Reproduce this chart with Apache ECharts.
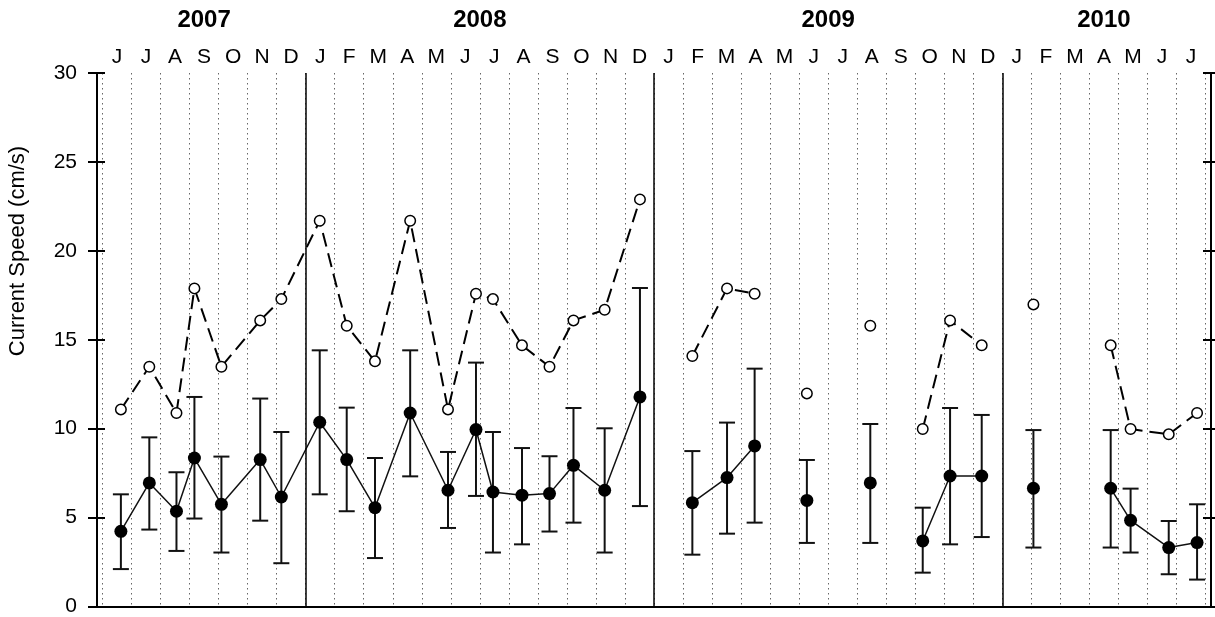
<!DOCTYPE html>
<html><head><meta charset="utf-8">
<script src="https://cdn.jsdelivr.net/npm/echarts@6/dist/echarts.min.js"></script>
<style>html,body{margin:0;padding:0;background:#fff}#c{width:1215px;height:617px}</style>
</head><body><div id="c"></div>
<script>
// ---- data ----
const sampleDates = ['2007-06-20','2007-07-20','2007-08-18','2007-09-06','2007-10-04','2007-11-14','2007-12-06',
  '2008-01-16','2008-02-13','2008-03-13','2008-04-19','2008-05-29','2008-06-27','2008-07-15','2008-08-15',
  '2008-09-13','2008-10-08','2008-11-10','2008-12-17',
  '2009-02-10','2009-03-17','2009-04-15','2009-06-09','2009-08-15','2009-10-09','2009-11-07','2009-12-10',
  '2010-02-03','2010-04-23','2010-05-14','2010-06-23','2010-07-23'];
// consecutive samples with the same group id are joined by lines
const groups = [0,0,0,0,0,0,0, 0,0,0,0,0,0,0,0, 0,0,0,0, 1,1,1,2,3,4,4,4, 5,6,6,6,6];
const maxSpeed = [11.1,13.5,10.9,17.9,13.5,16.1,17.3, 21.7,15.8,13.8,21.7,11.1,17.6,17.3,14.7,
  13.5,16.1,16.7,22.9, 14.1,17.9,17.6,12.0,15.8,10.0,16.1,14.7, 17.0,14.7,10.0,9.7,10.9];
const meanSpeed = [4.25,6.97,5.38,8.37,5.77,8.28,6.18, 10.38,8.28,5.58,10.9,6.56,9.97,6.46,6.28,
  6.37,7.96,6.56,11.8, 5.86,7.27,9.05,5.99,6.97,3.71,7.36,7.36, 6.67,6.67,4.87,3.34,3.62];
const barLow = [2.13,4.35,3.15,4.97,3.06,4.85,2.46, 6.33,5.38,2.75,7.34,4.44,6.24,3.06,3.52,
  4.24,4.74,3.06,5.67, 2.94,4.12,4.74,3.6,3.6,1.93,3.52,3.93, 3.34,3.34,3.06,1.84,1.54];
const barHigh = [6.33,9.53,7.57,11.8,8.45,11.71,9.83, 14.42,11.2,8.37,14.42,8.71,13.73,9.83,8.93,
  8.47,11.18,10.04,17.92, 8.76,10.36,13.39,8.26,10.28,5.58,11.18,10.79, 9.94,9.94,6.65,4.83,5.77];
const yearLabels = ['2007','2008','2009','2010'];
const monthInitials = ['J','F','M','A','M','J','J','A','S','O','N','D'];
const startYear = 2007, startMonth = 6, monthCount = 38; // Jun 2007 .. Jul 2010

// ---- derived ----
function daysIn(y,m){return new Date(y,m,0).getDate();}
function monthPos(s){const [y,m,d]=s.split('-').map(Number);return (y-startYear)*12+(m-startMonth)+(d-1)/daysIn(y,m);}
const xs = sampleDates.map(monthPos);
const monthLabels = [];
for(let i=0;i<monthCount;i++){monthLabels.push(monthInitials[(startMonth-1+i)%12]);}
const yearCenters = {};
const yearStarts = [];
yearLabels.forEach(function(yl){
  const Y=+yl; const a=Math.max(0,(Y-startYear)*12-(startMonth-1)); const b=Math.min(monthCount,(Y-startYear+1)*12-(startMonth-1));
  yearCenters[((a+b)/2).toFixed(1)] = yl; if(a>0) yearStarts.push(a);
});
function withBreaks(vals){
  const out=[];
  for(let i=0;i<xs.length;i++){
    if(i>0 && groups[i]!==groups[i-1]) out.push([(xs[i-1]+xs[i])/2,'-']);
    out.push([xs[i],vals[i]]);
  }
  return out;
}
const errData = xs.map((x,i)=>[x,barLow[i],barHigh[i]]);

const FONT = "'Liberation Sans', Arial, sans-serif";
const chart = echarts.init(document.getElementById('c'));
chart.setOption({
  animation:false,
  backgroundColor:'#fff',
  grid:[{left:97, top:73, width:1114, height:534}, {left:102.5, top:73, width:1103, height:534}],
  xAxis:[
    {gridIndex:0, type:'value', position:'top', min:0, max:1, axisLine:{show:true,lineStyle:{color:'#000',width:2}}, axisTick:{show:false}, axisLabel:{show:false}, splitLine:{show:false}},
    {gridIndex:0, type:'value', position:'bottom', min:0, max:1, axisLine:{show:true,lineStyle:{color:'#000',width:2}}, axisTick:{show:false}, axisLabel:{show:false}, splitLine:{show:false}},
    {gridIndex:1, type:'value', position:'top', min:0, max:monthCount, interval:0.5,
      axisLine:{show:false}, axisTick:{show:false}, splitLine:{show:false},
      axisLabel:{show:true, margin:41, fontFamily:FONT, fontSize:24, fontWeight:'bold', color:'#000',
        formatter:function(v){return yearCenters[Number(v).toFixed(1)]||'';}}},
    {gridIndex:1, type:'category', position:'top', data:monthLabels, boundaryGap:true,
      axisLine:{show:false}, axisTick:{show:false},
      axisLabel:{show:true, interval:0, margin:5, fontFamily:FONT, fontSize:21, color:'#000'},
      splitLine:{show:true, interval:0, lineStyle:{color:'#666', width:1, type:[1.5,3.5]}}}
  ],
  yAxis:[
    {gridIndex:0, type:'value', position:'left', min:0, max:30, interval:5,
      axisLine:{show:true,lineStyle:{color:'#000',width:2}}, axisTick:{show:true,inside:false,length:9,lineStyle:{color:'#000',width:2}},
      axisLabel:{show:true, margin:20, fontFamily:FONT, fontSize:21, color:'#000'}, splitLine:{show:false}},
    {gridIndex:0, type:'value', position:'left', min:0, max:30, interval:5,
      axisLine:{show:false}, axisTick:{show:true,inside:true,length:8,lineStyle:{color:'#000',width:2}},
      axisLabel:{show:false}, splitLine:{show:false}},
    {gridIndex:0, type:'value', position:'right', min:0, max:30, interval:5,
      axisLine:{show:true,lineStyle:{color:'#000',width:2}}, axisTick:{show:true,inside:true,length:8,lineStyle:{color:'#000',width:2}},
      axisLabel:{show:false}, splitLine:{show:false}},
    {gridIndex:0, type:'value', position:'right', min:0, max:30, interval:5,
      axisLine:{show:false}, axisTick:{show:true,inside:false,length:6,lineStyle:{color:'#000',width:2}},
      axisLabel:{show:false}, splitLine:{show:false}},
    {gridIndex:1, type:'value', min:0, max:30, show:false}
  ],
  graphic:[{type:'text', x:17.5, y:251, rotation:Math.PI/2,
    style:{text:'Current Speed (cm/s)', font:'22px '+FONT, fill:'#000', align:'center', verticalAlign:'middle'}}],
  series:[
    {type:'line', xAxisIndex:0, yAxisIndex:0, data:[], silent:true},
    {type:'custom', xAxisIndex:2, yAxisIndex:4, data:errData, z:3, silent:true,
      encode:{x:0, y:[1,2]},
      renderItem:function(params, api){
        const x=api.value(0);
        const lo=api.coord([x,api.value(1)]), hi=api.coord([x,api.value(2)]);
        const w=8, st={stroke:'#111', lineWidth:2};
        return {type:'group', children:[
          {type:'line', shape:{x1:lo[0],y1:lo[1],x2:hi[0],y2:hi[1]}, style:st},
          {type:'line', shape:{x1:lo[0]-w,y1:lo[1],x2:lo[0]+w,y2:lo[1]}, style:st},
          {type:'line', shape:{x1:hi[0]-w,y1:hi[1],x2:hi[0]+w,y2:hi[1]}, style:st}
        ]};
      }},
    {type:'line', name:'mean', xAxisIndex:2, yAxisIndex:4, data:withBreaks(meanSpeed), z:4,
      connectNulls:false, showAllSymbol:true, symbol:'circle', symbolSize:13,
      itemStyle:{color:'#000'}, lineStyle:{color:'#111', width:1.5},
      markLine:{silent:true, symbol:'none', label:{show:false},
        lineStyle:{color:'#000', width:1.5, type:'solid'},
        data:yearStarts.map(v=>({xAxis:v}))}},
    {type:'line', name:'max', xAxisIndex:2, yAxisIndex:4, data:withBreaks(maxSpeed), z:5,
      connectNulls:false, showAllSymbol:true, symbol:'circle', symbolSize:10.5,
      itemStyle:{color:'#fff', borderColor:'#000', borderWidth:1.5},
      lineStyle:{color:'#000', width:2, type:[14,7]}}
  ]
});
</script></body></html>
